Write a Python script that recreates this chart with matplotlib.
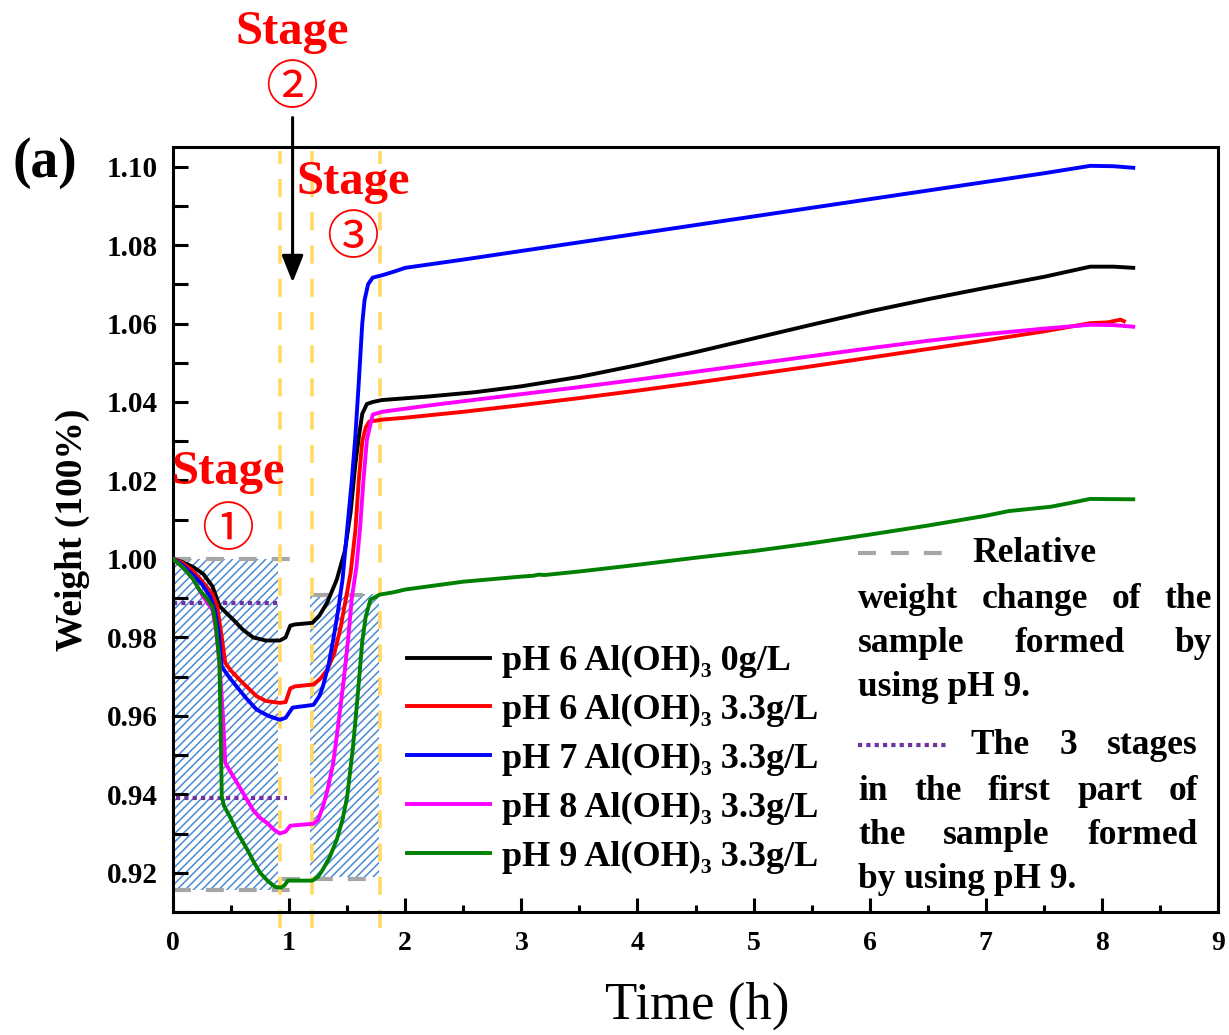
import matplotlib
matplotlib.use('Agg')
import matplotlib.pyplot as plt
from matplotlib.lines import Line2D

# ---- data ----
t_ph6_0 = [0, 0.08, 0.17, 0.26, 0.34, 0.40, 0.46, 0.52, 0.60, 0.69, 0.80, 0.92, 0.97,
           1.01, 1.05, 1.20, 1.26, 1.33, 1.41, 1.48, 1.53, 1.57, 1.60, 1.63, 1.67, 1.72,
           1.80, 2.2, 2.6, 3.0, 3.5, 4.0, 4.5, 5.0, 5.5, 6.0, 6.5, 7.0, 7.5, 7.9, 8.1, 8.27]
w_ph6_0 = [1.000, 0.9992, 0.998, 0.9962, 0.993, 0.988, 0.9862, 0.9845, 0.982, 0.980,
           0.9792, 0.9792, 0.980, 0.983, 0.9833, 0.9837, 0.9855, 0.989, 0.9947, 1.002,
           1.012, 1.024, 1.031, 1.037, 1.0395, 1.040, 1.0405, 1.0414, 1.0425, 1.0440,
           1.0464, 1.0494, 1.0527, 1.0562, 1.0597, 1.0631, 1.0662, 1.0691, 1.0719,
           1.0745, 1.0745, 1.0742]

t_ph6_33 = [0, 0.08, 0.17, 0.26, 0.34, 0.38, 0.42, 0.45, 0.50, 0.58, 0.65, 0.72, 0.80,
            0.92, 0.97, 1.01, 1.05, 1.21, 1.27, 1.33, 1.39, 1.44, 1.49, 1.53, 1.57, 1.60,
            1.63, 1.66, 1.69, 1.80, 2.0, 2.2, 2.5, 3.0, 3.5, 4.0, 4.5, 5.0, 5.5, 6.0, 6.5,
            7.0, 7.5, 7.9, 8.05, 8.13, 8.16, 8.19]
w_ph6_33 = [1.0, 0.999, 0.997, 0.994, 0.991, 0.988, 0.980, 0.9735, 0.9715, 0.969, 0.967,
            0.965, 0.9638, 0.9633, 0.9635, 0.967, 0.9675, 0.968, 0.9695, 0.9718, 0.976,
            0.982, 0.990, 0.9965, 1.007, 1.020, 1.030, 1.0335, 1.035, 1.0355, 1.036,
            1.0366, 1.0375, 1.0392, 1.041, 1.0429, 1.0449, 1.047, 1.0491, 1.0513, 1.0535,
            1.0557, 1.058, 1.0601, 1.0603, 1.0608, 1.0610, 1.0606]

t_ph7_33 = [0, 0.08, 0.17, 0.25, 0.32, 0.36, 0.39, 0.42, 0.48, 0.55, 0.63, 0.72, 0.82,
            0.92, 0.97, 1.03, 1.21, 1.26, 1.29, 1.34, 1.38, 1.42, 1.46, 1.50, 1.54, 1.57,
            1.60, 1.63, 1.65, 1.68, 1.72, 1.80, 1.90, 2.0, 2.5, 3.0, 3.5, 4.0, 4.5, 5.0,
            5.5, 6.0, 6.5, 7.0, 7.5, 7.9, 8.1, 8.27]
w_ph7_33 = [1.0, 0.9985, 0.996, 0.9935, 0.9904, 0.987, 0.982, 0.9725, 0.970, 0.9674,
            0.9645, 0.9616, 0.960, 0.959, 0.9595, 0.9621, 0.9628, 0.965, 0.9674, 0.973,
            0.9794, 0.9865, 0.9947, 1.0075, 1.020, 1.031, 1.045, 1.060, 1.066, 1.070,
            1.0717, 1.0723, 1.0732, 1.0742, 1.0763, 1.0785, 1.0807, 1.0829, 1.0851,
            1.0873, 1.0895, 1.0917, 1.0939, 1.0961, 1.0983, 1.1002, 1.1001, 1.0997]

t_ph8_33 = [0, 0.08, 0.17, 0.26, 0.34, 0.37, 0.40, 0.43, 0.45, 0.50, 0.55, 0.62, 0.69,
            0.75, 0.81, 0.87, 0.92, 0.97, 1.01, 1.21, 1.25, 1.29, 1.33, 1.38, 1.42, 1.47,
            1.51, 1.54, 1.58, 1.61, 1.64, 1.67, 1.72, 1.80, 2.0, 2.2, 2.5, 3.0, 3.5, 4.0,
            4.5, 5.0, 5.5, 6.0, 6.5, 7.0, 7.5, 7.9, 8.1, 8.27]
w_ph8_33 = [1.0, 0.998, 0.995, 0.9904, 0.987, 0.982, 0.9735, 0.960, 0.948, 0.9455, 0.943,
            0.9395, 0.936, 0.934, 0.9327, 0.931, 0.930, 0.9305, 0.932, 0.9325, 0.9335,
            0.9368, 0.941, 0.948, 0.957, 0.969, 0.980, 0.990, 0.998, 1.0075, 1.020,
            1.0304, 1.0368, 1.0375, 1.0383, 1.0391, 1.0402, 1.0420, 1.0438, 1.0457,
            1.0477, 1.0497, 1.0517, 1.0537, 1.0556, 1.0573, 1.0587, 1.0597, 1.0596, 1.0592]

t_ph9_33 = [0, 0.08, 0.17, 0.23, 0.29, 0.34, 0.37, 0.40, 0.41, 0.42, 0.44, 0.49, 0.56,
            0.64, 0.70, 0.75, 0.82, 0.88, 0.93, 0.96, 0.99, 1.20, 1.25, 1.29, 1.35, 1.41,
            1.46, 1.50, 1.55, 1.59, 1.63, 1.66, 1.70, 1.78, 1.90, 2.0, 2.5, 3.0, 3.1,
            3.15, 3.2, 3.5, 4.0, 4.5, 5.0, 5.5, 6.0, 6.5, 7.0, 7.2, 7.56, 7.7, 7.9, 8.27]
w_ph9_33 = [1.0, 0.998, 0.995, 0.992, 0.990, 0.9878, 0.983, 0.9735, 0.958, 0.9394, 0.937,
            0.9343, 0.930, 0.9259, 0.9225, 0.920, 0.9178, 0.9164, 0.9162, 0.9168, 0.918,
            0.918, 0.919, 0.9208, 0.924, 0.9284, 0.9335, 0.9394, 0.952, 0.9649, 0.979,
            0.9853, 0.9896, 0.9909, 0.9915, 0.9922, 0.9942, 0.9955, 0.9957, 0.9960,
            0.9959, 0.9968, 0.9985, 1.0003, 1.002, 1.004, 1.0062, 1.0085, 1.011, 1.0122,
            1.0133, 1.0141, 1.0153, 1.0152]

series = [
    (t_ph6_0, w_ph6_0, '#000000', 'pH 6 Al(OH)₃ 0g/L'),
    (t_ph6_33, w_ph6_33, '#ff0000', 'pH 6 Al(OH)₃ 3.3g/L'),
    (t_ph7_33, w_ph7_33, '#0000ff', 'pH 7 Al(OH)₃ 3.3g/L'),
    (t_ph8_33, w_ph8_33, '#ff00ff', 'pH 8 Al(OH)₃ 3.3g/L'),
    (t_ph9_33, w_ph9_33, '#008000', 'pH 9 Al(OH)₃ 3.3g/L'),
]

# stage boundaries and guide levels (pH 9 sample)
stage_bounds = [0.92, 1.20, 1.78]
hatch_boxes = [(0.0, 0.90, 0.9155, 1.000), (1.18, 1.77, 0.919, 0.991)]
gray_levels = [(1.000, 0.0, 1.03), (0.9155, 0.0, 1.03), (0.9907, 1.20, 1.64), (0.9183, 0.94, 1.67)]
purple_levels = [(0.9888, 0.0, 0.92), (0.9390, 0.03, 0.98)]

W, H = 1229, 1035

plt.rcParams['font.family'] = ['Liberation Serif', 'DejaVu Serif']
plt.rcParams['font.weight'] = 'bold'
plt.rcParams['hatch.linewidth'] = 1.1

fig = plt.figure(figsize=(W / 100, H / 100), dpi=100)
ax = fig.add_axes([173 / W, 1 - 912 / H, (1218 - 173) / W, (912 - 147) / H])

for x0, x1, y0, y1 in hatch_boxes:
    ax.fill_between([x0, x1], [y0, y0], [y1, y1], facecolor='none',
                    edgecolor='#4a8ad4', hatch='////', linewidth=0, zorder=1)

for y, x0, x1 in gray_levels:
    ax.plot([x0, x1], [y, y], color='#a6a6a6', lw=3, dashes=(4.3, 3.6), zorder=2)
for y, x0, x1 in purple_levels:
    ax.plot([x0, x1], [y, y], color='#7030a0', lw=3, dashes=(1, 1), zorder=2)

for xb in stage_bounds:
    ax.plot([xb, xb], [0.906, 1.104], color='#ffd966', lw=2.6, dashes=(5, 4.2),
            clip_on=False, zorder=2)

lines = []
for t, w, c, lab in series:
    ln, = ax.plot(t, w, color=c, lw=2.8, label=lab, zorder=3)
    lines.append(ln)

ax.set_xlim(0, 9)
ax.set_ylim(0.910, 1.105)
ax.set_xticks(range(0, 10))
ax.set_xticks([i + 0.5 for i in range(9)], minor=True)
ax.set_yticks([0.92, 0.94, 0.96, 0.98, 1.00, 1.02, 1.04, 1.06, 1.08, 1.10])
ax.set_yticks([0.91 + 0.01 * i for i in range(20)], minor=True)
ax.set_yticklabels(['0.92', '0.94', '0.96', '0.98', '1.00', '1.02', '1.04', '1.06', '1.08', '1.10'])
for s in ax.spines.values():
    s.set_linewidth(2.2)
ax.tick_params(axis='x', which='major', direction='in', length=10, width=2.2, pad=14, labelsize=20)
ax.tick_params(axis='x', which='minor', direction='in', length=5, width=2.2)
ax.tick_params(axis='y', which='both', direction='in', length=10.5, width=2.2, pad=11, labelsize=21)

ax.set_xlabel('Time (h)', fontsize=38, fontweight='normal')
ax.xaxis.set_label_coords((697 - 173) / 1045, (912 - 982) / 765)
ax.set_ylabel('Weight (100%)', fontsize=27, fontweight='bold')
ax.yaxis.set_label_coords((90 - 173) / 1045, (912 - 530) / 765)

leg = ax.legend(handles=lines, loc='upper left', bbox_to_anchor=((407 - 173) / 1045, (912 - 645) / 765),
                frameon=False, fontsize=26, handlelength=2.3, handletextpad=0.33,
                labelspacing=0.43, borderpad=0, borderaxespad=0)

fig.text(45 / W, 1 - 163 / H, '(a)', fontsize=40, fontweight='bold', ha='center', va='center')

# stage annotations
for xs, ys_word, ys_num, num in [(292, 32, 88, '②'), (353, 182, 238, '③'), (228, 472, 530, '①')]:
    fig.text(xs / W, 1 - ys_word / H, 'Stage', color='#ff0000', fontsize=35, fontweight='bold',
             ha='center', va='center', zorder=5)
    fig.text(xs / W, 1 - ys_num / H, num, color='#ff0000', fontsize=38, fontweight='normal',
             family=['Noto Sans CJK SC', 'DejaVu Sans'], ha='center', va='center', zorder=5)

ax.annotate('', xy=(1.03, 1.0705), xytext=(1.03, 1.1125), annotation_clip=False,
            arrowprops=dict(arrowstyle='-|>,head_length=0.55,head_width=0.22', color='black',
                            lw=2.2, mutation_scale=30, shrinkA=0, shrinkB=0))

# second (text) legend on the right
fig.add_artist(Line2D([858 / W, 950 / W], [1 - 553 / H] * 2, color='#a6a6a6', lw=3,
                      dashes=(4.3, 3.6)))
fig.add_artist(Line2D([858 / W, 948 / W], [1 - 745 / H] * 2, color='#7030a0', lw=3,
                      dashes=(1, 1)))

text_lines = [
    (['Relative'], 553, 972, None),
    (['weight', 'change', 'of', 'the'], 599, 858, 1212),
    (['sample', 'formed', 'by'], 643, 858, 1212),
    (['using pH 9.'], 688, 858, None),
    (['The', '3', 'stages'], 746, 970, 1198),
    (['in', 'the', 'first', 'part', 'of'], 791, 858, 1198),
    (['the', 'sample', 'formed'], 835, 858, 1198),
    (['by using pH 9.'], 879, 858, None),
]
renderer = fig.canvas.get_renderer()
for words, y, x0, x1 in text_lines:
    txts = [fig.text(0, 1 - y / H, wd, fontsize=25.5, fontweight='bold', ha='left', va='center')
            for wd in words]
    widths = [tx.get_window_extent(renderer).width for tx in txts]
    gap = 0 if x1 is None else (x1 - x0 - sum(widths)) / (len(words) - 1)
    x = x0
    for tx, wd in zip(txts, widths):
        tx.set_x(x / W)
        x += wd + gap

fig.savefig('out.png', dpi=100)
